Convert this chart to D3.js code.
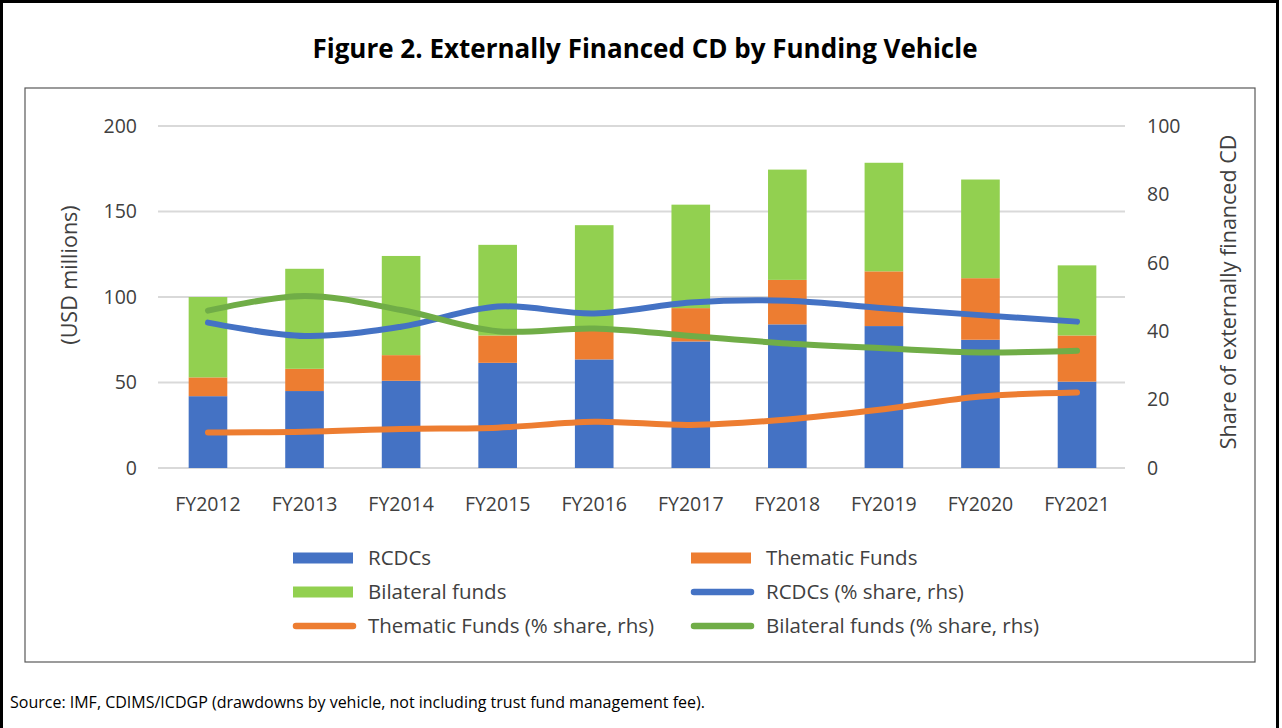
<!DOCTYPE html>
<html>
<head>
<meta charset="utf-8">
<script src="https://cdn.jsdelivr.net/npm/d3@7"></script>
<style>
  body { margin: 0; background: #fff; }
  svg { display: block; font-family: "Open Sans", "Noto Sans", sans-serif; }
</style>
</head>
<body>
<svg id="canvas" width="1282" height="728"></svg>
<script>
// values
let years = ['FY2012', 'FY2013', 'FY2014', 'FY2015', 'FY2016', 'FY2017', 'FY2018', 'FY2019', 'FY2020', 'FY2021']
let rcdcs = [42, 45, 51, 61.5, 63.5, 74, 84, 83, 75, 50.5]
let thematic = [11, 13, 15, 16, 17, 19.5, 26, 32, 36, 27]
let bilateral = [47, 58.5, 58, 53, 61.5, 60.5, 64.5, 63.5, 57.7, 41]
let rcdcShare = [42.5, 38.6, 41.3, 47.2, 45.2, 48.4, 48.9, 46.7, 44.7, 42.8]
let thematicShare = [10.4, 10.6, 11.4, 11.8, 13.5, 12.6, 14.2, 17.2, 20.9, 22.1]
let bilateralShare = [46, 50.3, 46.2, 40, 40.8, 38.6, 36.4, 35, 33.8, 34.3]
let leftTicks = [0, 50, 100, 150, 200]
let rightTicks = [0, 20, 40, 60, 80, 100]

let barSeries = [
  { name: 'RCDCs', values: rcdcs, color: '#4472C4' },
  { name: 'Thematic Funds', values: thematic, color: '#ED7D31' },
  { name: 'Bilateral funds', values: bilateral, color: '#92D050' }
]
let lineSeries = [
  { name: 'RCDCs (% share, rhs)', values: rcdcShare, color: '#4472C4' },
  { name: 'Thematic Funds (% share, rhs)', values: thematicShare, color: '#ED7D31' },
  { name: 'Bilateral funds (% share, rhs)', values: bilateralShare, color: '#70AD47' }
]

let canvas = d3.select('#canvas')
let textColor = '#404040'

// frames
canvas.append('rect')
  .attr('x', 1.5).attr('y', 1.5).attr('width', 1276).attr('height', 760)
  .attr('fill', 'none').attr('stroke', '#000').attr('stroke-width', 3)
canvas.append('rect')
  .attr('x', 25).attr('y', 88).attr('width', 1230).attr('height', 574)
  .attr('fill', 'none').attr('stroke', '#595959').attr('stroke-width', 1.2)

canvas.append('text')
  .attr('x', 645).attr('y', 58)
  .attr('text-anchor', 'middle')
  .attr('font-size', 26).attr('font-weight', 'bold').attr('fill', '#000')
  .text('Figure 2. Externally Financed CD by Funding Vehicle')

canvas.append('text')
  .attr('x', 10).attr('y', 708)
  .attr('font-size', 16).attr('fill', '#000')
  .text('Source: IMF, CDIMS/ICDGP (drawdowns by vehicle, not including trust fund management fee).')

// scales
let x = d3.scaleBand().domain(years).range([159.7, 1125.3]).paddingInner(0.6).paddingOuter(0.3)
let yLeft = d3.scaleLinear().domain([0, 200]).range([468, 126])
let yRight = d3.scaleLinear().domain([0, 100]).range([468, 126])

// gridlines
canvas.append('g')
  .selectAll('line')
  .data(leftTicks)
  .enter()
  .append('line')
  .attr('x1', 158).attr('x2', 1125)
  .attr('y1', (d) => yLeft(d)).attr('y2', (d) => yLeft(d))
  .attr('stroke', '#d9d9d9').attr('stroke-width', 2)

// stacked bars
let stackData = years.map((yr, i) => ({ year: yr, RCDCs: rcdcs[i], 'Thematic Funds': thematic[i], 'Bilateral funds': bilateral[i] }))
let stacked = d3.stack().keys(barSeries.map((s) => s.name))(stackData)
canvas.append('g')
  .selectAll('g')
  .data(stacked)
  .enter()
  .append('g')
  .attr('fill', (d, i) => barSeries[i].color)
  .selectAll('rect')
  .data((d) => d)
  .enter()
  .append('rect')
  .attr('x', (d) => x(d.data.year))
  .attr('width', x.bandwidth())
  .attr('y', (d) => yLeft(d[1]))
  .attr('height', (d) => yLeft(d[0]) - yLeft(d[1]))

// share lines
let line = d3.line()
  .x((d, i) => x(years[i]) + x.bandwidth() / 2)
  .y((d) => yRight(d))
  .curve(d3.curveCatmullRom.alpha(0.5))
canvas.append('g')
  .selectAll('path')
  .data(lineSeries)
  .enter()
  .append('path')
  .attr('d', (s) => line(s.values))
  .attr('fill', 'none')
  .attr('stroke', (s) => s.color)
  .attr('stroke-width', 6)
  .attr('stroke-linecap', 'round')
  .attr('stroke-linejoin', 'round')

// axes
let leftAxis = d3.axisLeft(yLeft).tickValues(leftTicks).tickSize(0).tickPadding(0)
let gl = canvas.append('g').attr('transform', 'translate(137,0)').call(leftAxis)
let rightAxis = d3.axisRight(yRight).tickValues(rightTicks).tickSize(0).tickPadding(0)
let gr = canvas.append('g').attr('transform', 'translate(1147,0)').call(rightAxis)
let bottomAxis = d3.axisBottom(x).tickSize(0).tickPadding(0)
let gb = canvas.append('g').attr('transform', 'translate(0,497)').call(bottomAxis)
;[gl, gr, gb].forEach((g) => {
  g.select('.domain').remove()
  g.selectAll('text').attr('font-size', 19.5).attr('fill', textColor).attr('font-family', '"Open Sans", sans-serif')
})
gb.selectAll('text').attr('dy', '0.71em')

canvas.append('text')
  .attr('transform', 'translate(77,275) rotate(-90)')
  .attr('text-anchor', 'middle')
  .attr('font-size', 21.5).attr('fill', textColor)
  .text('(USD millions)')
canvas.append('text')
  .attr('transform', 'translate(1236,292) rotate(-90)')
  .attr('text-anchor', 'middle')
  .attr('font-size', 21.5).attr('fill', textColor)
  .text('Share of externally financed CD')

// legend
let legendItems = [
  { s: barSeries[0], type: 'bar' }, { s: barSeries[1], type: 'bar' },
  { s: barSeries[2], type: 'bar' }, { s: lineSeries[0], type: 'line' },
  { s: lineSeries[1], type: 'line' }, { s: lineSeries[2], type: 'line' }
]
let colX = [293, 691]
let rowY = [558, 592, 626]
let legend = canvas.append('g')
  .selectAll('g')
  .data(legendItems)
  .enter()
  .append('g')
  .attr('transform', (d, i) => 'translate(' + colX[i % 2] + ',' + rowY[Math.floor(i / 2)] + ')')
legend.filter((d) => d.type === 'bar')
  .append('rect')
  .attr('x', 0).attr('y', -5.5).attr('width', 60).attr('height', 11)
  .attr('fill', (d) => d.s.color)
legend.filter((d) => d.type === 'line')
  .append('line')
  .attr('x1', 3).attr('x2', 60).attr('y1', 0).attr('y2', 0)
  .attr('stroke', (d) => d.s.color).attr('stroke-width', 6.5).attr('stroke-linecap', 'round')
legend.append('text')
  .attr('x', 75).attr('y', 0).attr('dy', '0.35em')
  .attr('font-size', 20.5).attr('fill', textColor)
  .text((d) => d.s.name)
</script>
</body>
</html>
